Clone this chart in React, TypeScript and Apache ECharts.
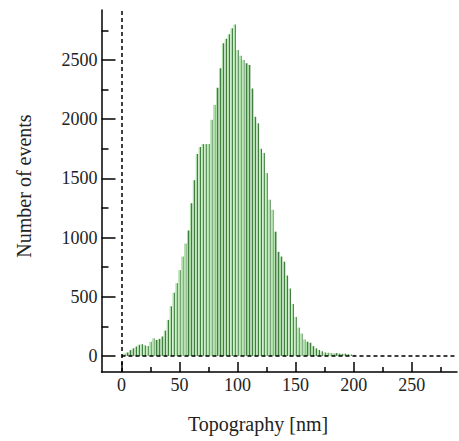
import React, { useEffect, useRef } from "react";
import * as echarts from "echarts";

const binCenters = [
  2.5, 5, 7.5, 10, 12.5, 15, 17.5, 20, 22.5, 25,
  27.5, 30, 32.5, 35, 37.5, 40, 42.5, 45, 47.5, 50,
  52.5, 55, 57.5, 60, 62.5, 65, 67.5, 70, 72.5, 75,
  77.5, 80, 82.5, 85, 87.5, 90, 92.5, 95, 97.5, 100,
  102.5, 105, 107.5, 110, 112.5, 115, 117.5, 120, 122.5, 125,
  127.5, 130, 132.5, 135, 137.5, 140, 142.5, 145, 147.5, 150,
  152.5, 155, 157.5, 160, 162.5, 165, 167.5, 170, 172.5, 175,
  177.5, 180, 182.5, 185, 187.5, 190, 192.5, 195, 197.5, 200,
];

const eventCounts = [
  20, 30, 50, 65, 80, 95, 100, 90, 85, 120,
  150, 135, 145, 165, 215, 305, 420, 535, 615, 725,
  840, 950, 1060, 1290, 1485, 1706, 1765, 1790, 1790, 1790,
  1995, 2120, 2265, 2430, 2641, 2680, 2717, 2767, 2800, 2585,
  2535, 2500, 2472, 2458, 2260, 2020, 1965, 1750, 1715, 1545,
  1320, 1235, 1050, 880, 840, 797, 680, 570, 440, 330,
  240, 190, 140, 121, 112, 84, 65, 51, 40, 30,
  28, 25, 22, 25, 20, 18, 20, 15, 12, 10,
];

const xMajorTicks = [0, 50, 100, 150, 200, 250];
const xMinorTicks = [25, 75, 125, 175, 225, 275];
const yMajorTicks = [0, 500, 1000, 1500, 2000, 2500];
const yMinorTicks = [250, 750, 1250, 1750, 2250, 2750];

const X_MIN = -17.2;
const X_MAX = 289;
const Y_MIN = -135;
const Y_MAX = 2922;

const FONT = '"Liberation Serif", "Times New Roman", serif';

export default function App() {
  const ref = useRef<HTMLDivElement>(null);

  useEffect(() => {
    if (!ref.current) return;
    const chart = echarts.init(ref.current, null, { renderer: "svg" });

    const barColor = new echarts.graphic.LinearGradient(0, 0, 1, 0, [
      { offset: 0, color: "#acdfa6" },
      { offset: 0.58, color: "#acdfa6" },
      { offset: 0.58, color: "#417f41" },
      { offset: 1, color: "#417f41" },
    ]);

    const dash = [4, 3];
    const plain = (v: number) => String(v);

    chart.setOption({
      animation: false,
      backgroundColor: "#ffffff",
      grid: { left: 101.5, right: 2, top: 10, bottom: 69 },
      xAxis: [
        {
          type: "value",
          min: X_MIN,
          max: X_MAX,
          position: "bottom",
          axisLine: { show: true, onZero: false, lineStyle: { color: "#000", width: 1.5 } },
          axisTick: {
            show: true,
            inside: true,
            length: 10,
            customValues: xMajorTicks,
            lineStyle: { color: "#000", width: 1.5 },
          },
          axisLabel: {
            customValues: xMajorTicks,
            formatter: plain,
            margin: 4,
            fontFamily: FONT,
            fontSize: 18,
            color: "#222",
          },
          splitLine: { show: false },
        },
        {
          type: "value",
          min: X_MIN,
          max: X_MAX,
          position: "bottom",
          offset: 0,
          axisLine: { show: false, onZero: false },
          axisTick: {
            show: true,
            inside: true,
            length: 5,
            customValues: xMinorTicks,
            lineStyle: { color: "#000", width: 1.5 },
          },
          axisLabel: { show: false },
          splitLine: { show: false },
        },
      ],
      yAxis: [
        {
          type: "value",
          min: Y_MIN,
          max: Y_MAX,
          position: "left",
          axisLine: { show: true, onZero: false, lineStyle: { color: "#000", width: 1.5 } },
          axisTick: {
            show: true,
            inside: true,
            length: 14,
            customValues: yMajorTicks,
            lineStyle: { color: "#000", width: 1.5 },
          },
          axisLabel: {
            customValues: yMajorTicks,
            formatter: plain,
            margin: 4,
            fontFamily: FONT,
            fontSize: 18,
            color: "#222",
          },
          splitLine: { show: false },
        },
        {
          type: "value",
          min: Y_MIN,
          max: Y_MAX,
          position: "left",
          offset: 0,
          axisLine: { show: false, onZero: false },
          axisTick: {
            show: true,
            inside: true,
            length: 7,
            customValues: yMinorTicks,
            lineStyle: { color: "#000", width: 1.5 },
          },
          axisLabel: { show: false },
          splitLine: { show: false },
        },
      ],
      series: [
        {
          type: "bar",
          xAxisIndex: 0,
          yAxisIndex: 0,
          barWidth: 2.4,
          itemStyle: { color: barColor },
          data: binCenters.map((c, i) => [c, eventCounts[i]]),
          markLine: {
            silent: true,
            symbol: "none",
            label: { show: false },
            lineStyle: { color: "#000", width: 1.5, type: dash },
            data: [
              [{ coord: [0, Y_MIN] }, { coord: [0, Y_MAX] }],
              [{ coord: [0, 0] }, { coord: [X_MAX, 0] }],
            ],
          },
        },
      ],
      graphic: [
        {
          type: "text",
          x: 258,
          y: 424,
          style: {
            text: "Topography [nm]",
            font: `20px ${FONT}`,
            fill: "#222",
            align: "center",
            verticalAlign: "middle",
          },
        },
        {
          type: "text",
          x: 24,
          y: 186,
          rotation: Math.PI / 2,
          style: {
            text: "Number of events",
            font: `20px ${FONT}`,
            fill: "#222",
            align: "center",
            verticalAlign: "middle",
          },
        },
      ],
    });

    return () => chart.dispose();
  }, []);

  return (
    <div
      ref={ref}
      style={{ position: "fixed", left: 0, top: 0, width: 459, height: 441, background: "#fff" }}
    />
  );
}
